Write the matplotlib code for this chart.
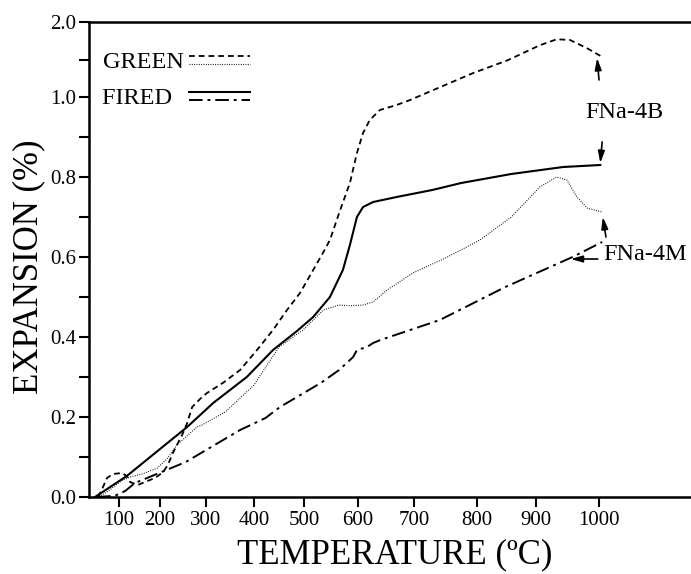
import numpy as np
import matplotlib
matplotlib.use("Agg")
from matplotlib import pyplot as plt
from matplotlib.lines import Line2D
from matplotlib.legend_handler import HandlerBase

plt.rcParams['font.family'] = ['Liberation Serif', 'DejaVu Serif']

# ---- data (temperature in C, expansion in %) ----
green_4b_t = [48, 60, 70, 85, 107, 119, 127, 146, 163, 188, 207, 217, 228, 239, 248, 259,
              270, 287, 302, 335, 371, 406, 438, 466, 492, 517, 536, 548, 567, 585, 598,
              609, 621, 639, 669, 693, 741, 794, 852, 906, 933, 954, 981, 1006]
green_4b_v = [0.0, 0.025, 0.0475, 0.0575, 0.06, 0.0525, 0.0375, 0.03, 0.0375, 0.0475, 0.0625,
              0.08, 0.11, 0.135, 0.155, 0.185, 0.225, 0.245, 0.26, 0.285, 0.3175, 0.3675,
              0.4175, 0.4675, 0.51, 0.5675, 0.6125, 0.6425, 0.7175, 0.785, 0.86, 0.91, 0.9425,
              0.9675, 0.98, 0.9925, 1.13, 1.32, 1.49, 1.69, 1.77, 1.76, 1.65, 1.53]

green_4m_t = [50, 80, 105, 127, 158, 193, 215, 237, 256, 280, 291, 340, 400, 450, 498, 536,
              565, 585, 609, 627, 652, 698, 753, 805, 858, 906, 933, 949, 965, 981, 1005]
green_4m_v = [0.0, 0.02, 0.04, 0.05, 0.058, 0.072, 0.095, 0.13, 0.15, 0.175, 0.18, 0.2125,
              0.28, 0.375, 0.4175, 0.4675, 0.48, 0.478, 0.48, 0.4875, 0.5175, 0.56, 0.60,
              0.6425, 0.70, 0.775, 0.80, 0.7925, 0.75, 0.7225, 0.7125]

fired_4b_t = [40, 119, 259, 315, 385, 438, 486, 517, 548, 572, 585, 598, 609, 627, 669, 729,
              775, 858, 943, 1002]
fired_4b_v = [0.0, 0.0525, 0.175, 0.235, 0.30, 0.3675, 0.415, 0.45, 0.50, 0.5675, 0.63, 0.70,
              0.725, 0.7375, 0.75, 0.7675, 0.785, 0.8075, 0.825, 0.83]

fired_4m_t = [45, 90, 115, 139, 256, 371, 423, 452, 531, 565, 591, 598, 616, 627, 640, 741,
              848, 958, 1005]
fired_4m_v = [0.0, 0.003, 0.015, 0.035, 0.0875, 0.1675, 0.1975, 0.225, 0.285, 0.3175, 0.35,
              0.3675, 0.375, 0.385, 0.3925, 0.4425, 0.525, 0.60, 0.6375]

x_ticks = [100, 200, 300, 400, 500, 600, 700, 800, 900, 1000]
y_ticks = [0.0, 0.2, 0.4, 0.6, 0.8, 1.0, 2.0]
y_labels = ['0.0', '0.2', '0.4', '0.6', '0.8', '1.0', '2.0']
y_minor = [0.1, 0.3, 0.5, 0.7, 0.9, 1.5]

# ---- hand drawn axes: uneven temperature spacing, compressed top above 1.0 ----
knot_t = np.array([0, 100, 200, 300, 400, 500, 600, 700, 800, 900, 1000, 1200])
knot_p = np.array([79, 119, 160, 206, 254, 304, 358, 414, 477, 536, 599, 725], dtype=float)


def lin_interp(x, xp, fp):
    x = np.asarray(x, dtype=float)
    out = np.interp(x, xp, fp)
    s0 = (fp[1] - fp[0]) / (xp[1] - xp[0])
    s1 = (fp[-1] - fp[-2]) / (xp[-1] - xp[-2])
    out = np.where(x < xp[0], fp[0] + (x - xp[0]) * s0, out)
    out = np.where(x > xp[-1], fp[-1] + (x - xp[-1]) * s1, out)
    return out


def x_fwd(t):
    return lin_interp(t, knot_t, knot_p)


def x_inv(p):
    return lin_interp(p, knot_p, knot_t)


top_squeeze = 0.1875


def y_fwd(v):
    v = np.asarray(v, dtype=float)
    return np.where(v <= 1.0, v, 1.0 + (v - 1.0) * top_squeeze)


def y_inv(d):
    d = np.asarray(d, dtype=float)
    return np.where(d <= 1.0, d, 1.0 + (d - 1.0) / top_squeeze)


class StackedHandler(HandlerBase):
    # two line samples stacked on top of each other
    def create_artists(self, legend, orig_handle, xdescent, ydescent,
                       width, height, fontsize, trans):
        artists = []
        mid = height / 2.0 - ydescent
        for i, h in enumerate(orig_handle):
            y = mid + (0.16 - 0.34 * i) * fontsize
            ln = Line2D([-xdescent, width - xdescent], [y, y])
            ln.update_from(h)
            ln.set_transform(trans)
            artists.append(ln)
        return artists


fig = plt.figure(figsize=(6.91, 5.74), dpi=100)
ax = fig.add_axes([89 / 691, 77 / 574, 602 / 691, 475 / 574])
ax.set_xscale('function', functions=(x_fwd, x_inv))
ax.set_yscale('function', functions=(y_fwd, y_inv))

l_g4b, = ax.plot(green_4b_t, green_4b_v, color='black', lw=1.3, dashes=(3.2, 2.2))
l_g4m, = ax.plot(green_4m_t, green_4m_v, color='black', lw=0.8, dashes=(0.8, 1.3))
l_f4b, = ax.plot(fired_4b_t, fired_4b_v, color='black', lw=1.5)
l_f4m, = ax.plot(fired_4m_t, fired_4m_v, color='black', lw=1.4, dashes=(7, 2.5, 1.5, 2.5))

ax.set_xlim(25, 1146)
ax.set_ylim(0, 2.0)

ax.set_xticks(x_ticks)
ax.set_xticklabels([str(t) for t in x_ticks])
ax.set_yticks(y_ticks)
ax.set_yticklabels(y_labels)
ax.set_yticks(y_minor, minor=True)
ax.xaxis.set_minor_locator(matplotlib.ticker.NullLocator())
ax.tick_params(axis='both', which='both', direction='out', length=7, width=1.5,
               labelsize=15, color='black')
ax.tick_params(axis='y', pad=2)
ax.tick_params(axis='x', pad=3)

for side in ['left', 'bottom', 'top']:
    ax.spines[side].set_linewidth(1.8)
ax.spines['right'].set_visible(False)

ax.set_xlabel('TEMPERATURE (ºC)', fontsize=25)
ax.set_ylabel('EXPANSION (%)', fontsize=25)
ax.xaxis.set_label_coords(0.508, -0.088)
ax.yaxis.set_label_coords(-0.072, 0.484)

# padded label so both rows start at the same x
ax.legend([(l_g4b, l_g4m), (l_f4b, l_f4m)], ['GREEN', 'FIRED\u00a0\u00a0'],
          handler_map={tuple: StackedHandler()}, markerfirst=False,
          loc='upper left', bbox_to_anchor=(-0.007, 0.975), frameon=False,
          fontsize=17.5, handlelength=2.5, handletextpad=0.2, labelspacing=0.6,
          borderaxespad=0.3)

# curve labels with arrows
arrow = dict(arrowstyle='-|>,head_length=0.7,head_width=0.2', color='black', lw=1.2,
             shrinkA=0, shrinkB=0)
ax.text(1040, 0.9625, 'FNa-4B', fontsize=17.5, ha='center', va='center')
ax.annotate('', xy=(997, 1.52), xytext=(1000, 1.227), arrowprops=arrow)
ax.annotate('', xy=(1002, 0.835), xytext=(1005, 0.8875), arrowprops=arrow)
ax.text(1073, 0.605, 'FNa-4M', fontsize=17.5, ha='center', va='center')
ax.annotate('', xy=(1006, 0.70), xytext=(1011, 0.65), arrowprops=arrow)
ax.annotate('', xy=(955, 0.595), xytext=(998, 0.595), arrowprops=arrow)

fig.savefig('out.png', dpi=100)
